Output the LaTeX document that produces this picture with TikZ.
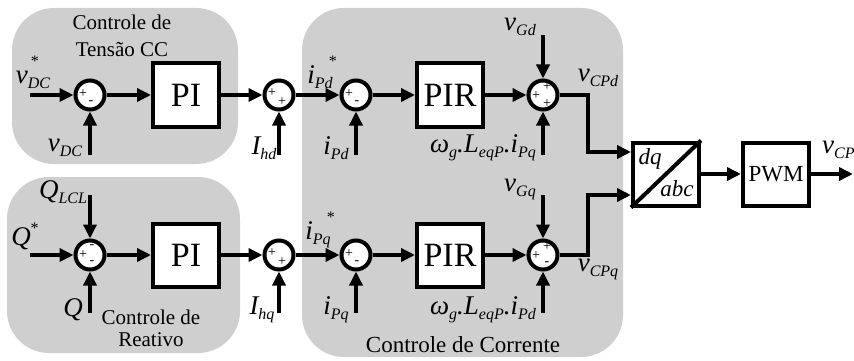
\documentclass[tikz,border=0pt]{standalone}
\usepackage{fontspec}
\setmainfont{Liberation Serif}
\usetikzlibrary{arrows.meta,calc}
\newcommand{\mv}[1]{{\fontsize{27}{27}\selectfont\itshape #1}}
\newcommand{\ms}[1]{\raisebox{-5pt}{\fontsize{16}{16}\selectfont\itshape #1}}
\newcommand{\st}[1]{\rlap{\hspace{#1}\raisebox{17pt}{\fontsize{16}{16}\selectfont *}}}
\begin{document}
\begin{tikzpicture}[x=1pt,y=-1pt,
  arr/.style={line width=3.4pt,-{Triangle[length=14pt,width=13pt]}},
  sumn/.style={circle,draw,line width=4pt,fill=white,minimum size=29pt,inner sep=0pt},
  blk/.style={draw,line width=4pt,fill=white,minimum width=66pt,minimum height=63pt,inner sep=0pt},
  region/.style={fill=black!19,rounded corners=42pt},
  sg/.style={font=\fontsize{14}{14}\selectfont,inner sep=0pt},
  lbl/.style={inner sep=0pt},
  ttl/.style={font=\fontsize{21}{21}\selectfont,inner sep=0pt}
]
\clip (0,0) rectangle (854,361);
\useasboundingbox (0,0) rectangle (854,361);
% regions
\fill[region] (12,8) rectangle (238,164);
\fill[region] (7,177) rectangle (240,353);
\fill[region] (302,8) rectangle (623,357);
\node[ttl] (t1) at (122,22) {Controle de};
\node[ttl] (t2) at (122,50) {Tensão CC};
\node[ttl] (t3) at (151,317) {Controle de};
\node[ttl] (t4) at (151,340) {Reativo};
\node[ttl,font=\fontsize{23}{23}\selectfont] (t5) at (463,345) {Controle de Corrente};
% top row
\node[sumn] (s1) at (90,95) {};
\node[blk,font=\fontsize{34}{34}\selectfont] (pi1) at (186,95) {PI};
\node[sumn] (s2) at (279,95) {};
\node[sumn] (s3) at (356,95) {};
\node[blk,font=\fontsize{34}{34}\selectfont] (pir1) at (450,95) {PIR};
\node[sumn] (s4) at (543,95) {};
% bottom row
\node[sumn] (s5) at (90,255) {};
\node[blk,font=\fontsize{34}{34}\selectfont] (pi2) at (186,255) {PI};
\node[sumn] (s6) at (279,255) {};
\node[sumn] (s7) at (356,255) {};
\node[blk,font=\fontsize{34}{34}\selectfont] (pir2) at (450,255) {PIR};
\node[sumn] (s8) at (543,255) {};
% right blocks
\node[blk] (dq) at (666,174) {};
\node[blk,font=\fontsize{23}{23}\selectfont] (pwm) at (776,174) {PWM};
\draw[line width=4pt] (dq.south west) -- (dq.north east);
\node[lbl,font=\fontsize{23}{23}\selectfont\itshape] (dqt) at (650,159) {dq};
\node[lbl,font=\fontsize{23}{23}\selectfont\itshape] (abct) at (677,189) {abc};
% signs
\node[sg] (g1a) at ($(s1)+(-7,-1)$) {+};
\node[sg] (g1b) at ($(s1)+(1,8)$) {-};
\node[sg] (g2a) at ($(s2)+(-7,-2)$) {+};
\node[sg] (g2b) at ($(s2)+(3,7)$) {+};
\node[sg] (g3a) at ($(s3)+(-7,-1)$) {+};
\node[sg] (g3b) at ($(s3)+(1,8)$) {-};
\node[sg] (g4a) at ($(s4)+(4,-8)$) {+};
\node[sg] (g4b) at ($(s4)+(-7,1)$) {+};
\node[sg] (g4c) at ($(s4)+(4,9)$) {+};
\node[sg] (g5a) at ($(s5)+(2,-8)$) {-};
\node[sg] (g5b) at ($(s5)+(-7,0)$) {+};
\node[sg] (g5c) at ($(s5)+(2,8)$) {-};
\node[sg] (g6a) at ($(s6)+(-7,-2)$) {+};
\node[sg] (g6b) at ($(s6)+(3,7)$) {+};
\node[sg] (g7a) at ($(s7)+(-7,-1)$) {+};
\node[sg] (g7b) at ($(s7)+(1,8)$) {-};
\node[sg] (g8a) at ($(s8)+(4,-8)$) {+};
\node[sg] (g8b) at ($(s8)+(-7,1)$) {+};
\node[sg] (g8c) at ($(s8)+(4,9)$) {-};
% free ends
\coordinate (a1) at (30,95);
\coordinate (a2) at (90,155);
\coordinate (a3) at (279,155);
\coordinate (a4) at (356,155);
\coordinate (a5) at (543,155);
\coordinate (a6) at (543,35);
\coordinate (b1) at (30,255);
\coordinate (b2) at (90,195);
\coordinate (b3) at (90,313);
\coordinate (b4) at (279,313);
\coordinate (b5) at (356,313);
\coordinate (b6) at (543,195);
\coordinate (b7) at (543,313);
\coordinate (k1) at (588,152);
\coordinate (k2) at (588,195);
\coordinate (out) at (853,174);
% connectors top
\draw[arr] (a1) -- (s1);
\draw[arr] (s1) -- (pi1);
\draw[arr] (pi1) -- (s2);
\draw[arr] (s2) -- (s3);
\draw[arr] (s3) -- (pir1);
\draw[arr] (pir1) -- (s4);
\draw[arr] (a2) -- (s1);
\draw[arr] (a3) -- (s2);
\draw[arr] (a4) -- (s3);
\draw[arr] (a5) -- (s4);
\draw[arr] (a6) -- (s4);
\draw[arr] (s4) -| (k1) -- (k1 -| dq.west);
% connectors bottom
\draw[arr] (b1) -- (s5);
\draw[arr] (s5) -- (pi2);
\draw[arr] (pi2) -- (s6);
\draw[arr] (s6) -- (s7);
\draw[arr] (s7) -- (pir2);
\draw[arr] (pir2) -- (s8);
\draw[arr] (b2) -- (s5);
\draw[arr] (b3) -- (s5);
\draw[arr] (b4) -- (s6);
\draw[arr] (b5) -- (s7);
\draw[arr] (b6) -- (s8);
\draw[arr] (b7) -- (s8);
\draw[arr] (s8) -| (k2) -- (k2 -| dq.west);
\draw[arr] (dq) -- (pwm);
\draw[arr] (pwm) -- (out);
% labels top
\node[lbl] (l1) at (33,72) {\mv{v}\st{3pt}\ms{DC}};
\node[lbl] (l2) at (65,148) {\mv{v}\ms{DC}};
\node[lbl] (l3) at (264,148) {\mv{I}\ms{hd}};
\node[lbl] (l4) at (320,72) {\mv{i}\st{14pt}\ms{Pd}};
\node[lbl] (l5) at (336,148) {\mv{i}\ms{Pd}};
\node[lbl] (l6) at (520,27) {\mv{v}\ms{Gd}};
\node[lbl] (l7) at (483,148) {\mv{ω}\ms{g}\mv{.}\mv{L}\ms{eqP}\mv{.}\mv{i}\ms{Pq}};
\node[lbl] (l8) at (598,78) {\mv{v}\ms{CPd}};
\node[lbl,anchor=west] (l9) at (822,150) {\mv{v}\ms{CP}};
% labels bottom
\node[lbl] (m1) at (63,192) {\mv{Q}\ms{LCL}};
\node[lbl] (m2) at (25,236) {\mv{Q}\raisebox{12pt}{\fontsize{16}{16}\selectfont *}};
\node[lbl] (m3) at (73,310) {\mv{Q}};
\node[lbl] (m4) at (262,310) {\mv{I}\ms{hq}};
\node[lbl] (m5) at (318,230) {\mv{i}\st{14pt}\ms{Pq}};
\node[lbl] (m6) at (336,310) {\mv{i}\ms{Pq}};
\node[lbl] (m7) at (520,190) {\mv{v}\ms{Gq}};
\node[lbl] (m8) at (483,310) {\mv{ω}\ms{g}\mv{.}\mv{L}\ms{eqP}\mv{.}\mv{i}\ms{Pd}};
\node[lbl] (m9) at (598,270) {\mv{v}\ms{CPq}};
\end{tikzpicture}
\end{document}
